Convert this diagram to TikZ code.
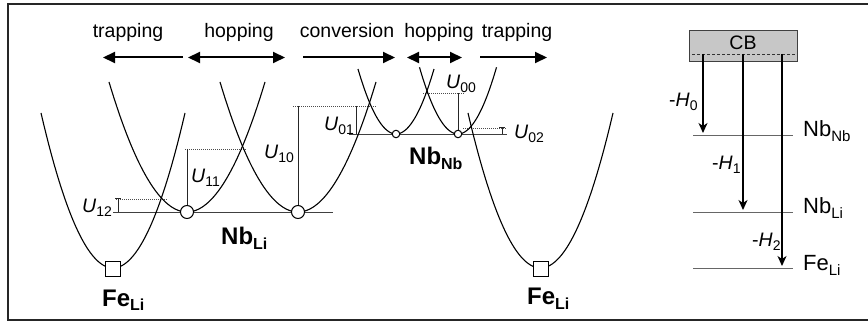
\documentclass[tikz,border=0pt]{standalone}
\usepackage{fontspec}
\setmainfont{Liberation Sans}
\usetikzlibrary{arrows.meta}
\newcommand{\lsub}[1]{\raisebox{-0.35ex}{\fontsize{14}{15}\selectfont #1}}
\newcommand{\bsub}[1]{\raisebox{-0.35ex}{\fontsize{16}{17}\selectfont #1}}
\newcommand{\rsub}[1]{\raisebox{-0.35ex}{\fontsize{15}{16}\selectfont #1}}
\begin{document}
\begin{tikzpicture}[x=1pt,y=-1pt,font=\fontsize{19.5}{22}\selectfont,
  curve/.style={line width=1.1pt,black},
  base/.style={line width=0.9pt,black!75},
  dot/.style={line width=0.7pt,black!70,dash pattern=on 1pt off 1pt},
  bar/.style={line width=1pt,black!85},
  procarrow/.style={line width=2pt,-{Triangle[length=12pt,width=11pt]}},
  procboth/.style={line width=2pt,{Triangle[length=12pt,width=11pt]}-{Triangle[length=12pt,width=11pt]}},
  hop/.style={line width=1.4pt,-{Stealth[length=10pt,width=9pt,inset=3pt]}},
  level/.style={line width=0.9pt,black!60},
  circA/.style={circle,draw,fill=white,line width=1pt,minimum size=13pt,inner sep=0pt},
  circB/.style={circle,draw,fill=white,line width=1pt,minimum size=7.5pt,inner sep=0pt},
  sq/.style={rectangle,draw,fill=white,line width=1pt,minimum size=15pt,inner sep=0pt},
  lbl/.style={anchor=base,inner sep=0pt},
  ulbl/.style={anchor=base west,inner sep=0pt},
  blbl/.style={anchor=base west,inner sep=0pt,font=\fontsize{24}{26}\selectfont\bfseries},
  rlbl/.style={anchor=base west,inner sep=0pt,font=\fontsize{22}{24}\selectfont}]
\useasboundingbox (0,0) rectangle (868,323);
% frame
\draw[line width=1.6pt,black!85] (870,4) -- (8,4) -- (8,320) -- (870,320);

% process labels and arrows
\node[lbl] (t1) at (128,37.5) {trapping};
\node[lbl] (h1) at (239,37.5) {hopping};
\node[lbl] (cv) at (347,37.5) {conversion};
\node[lbl] (h2) at (439,37.5) {hopping};
\node[lbl] (t2) at (517,37.5) {trapping};
\coordinate (a1s) at (183,57.5); \coordinate (a1e) at (103,57.5);
\coordinate (a2s) at (188,57.5); \coordinate (a2e) at (285,57.5);
\coordinate (a3s) at (303,57.5); \coordinate (a3e) at (395,57.5);
\coordinate (a4s) at (407,57.5); \coordinate (a4e) at (462,57.5);
\coordinate (a5s) at (480,57.5); \coordinate (a5e) at (547,57.5);
\draw[procarrow] (a1s) -- (a1e);
\draw[procboth] (a2s) -- (a2e);
\draw[procarrow] (a3s) -- (a3e);
\draw[procboth] (a4s) -- (a4e);
\draw[procarrow] (a5s) -- (a5e);

% baselines
\draw[base] (113,212) -- (333,212);
\draw[base] (349,134) -- (507,134);

% dotted levels
\draw[dot] (116,199) -- (167,199);
\draw[dot] (185,149) -- (247,149);
\draw[dot] (293,106) -- (377,106);
\draw[dot] (423,93) -- (465,93);
\draw[dot] (463,128) -- (507,128);

% bars
\draw[bar] (118,199) -- (118,212);
\draw[bar] (187,149) -- (187,212);
\draw[bar] (298,106) -- (298,212);
\draw[bar] (356,106) -- (356,134);
\draw[bar] (458,93) -- (458,134);
\draw[bar] (502,128) -- (502,134);
\draw[bar] (499,128) -- (505,128);
\draw[bar] (115,199) -- (121,199);

% parabolas
\draw[curve] plot[domain=-72:72,samples=80,smooth] ({113+\x},{268-0.0299*\x*\x});
\draw[curve] plot[domain=-78:78,samples=80,smooth] ({187+\x},{212-0.02137*\x*\x});
\draw[curve] plot[domain=-78:78,samples=80,smooth] ({298+\x},{212-0.02137*\x*\x});
\draw[curve] plot[domain=-38:38,samples=60,smooth] ({396+\x},{134-0.045*\x*\x});
\draw[curve] plot[domain=-38.5:38.5,samples=60,smooth] ({458+\x},{134-0.045*\x*\x});
\draw[curve] plot[domain=-72.5:72.5,samples=80,smooth] ({540.5+\x},{268-0.0295*\x*\x});

% state markers
\node[sq] (fe1) at (113,269) {};
\node[sq] (fe2) at (540.5,269) {};
\node[circA] (nl1) at (187,212) {};
\node[circA] (nl2) at (298,212) {};
\node[circB] (nn1) at (396,134) {};
\node[circB] (nn2) at (458,134) {};

% U labels
\node[ulbl] (u12) at (82,213) {\textit{U}\lsub{12}};
\node[ulbl] (u11) at (191,183) {\textit{U}\lsub{11}};
\node[ulbl] (u10) at (264,159) {\textit{U}\lsub{10}};
\node[ulbl] (u01) at (324,131) {\textit{U}\lsub{01}};
\node[ulbl] (u00) at (446,89) {\textit{U}\lsub{00}};
\node[ulbl] (u02) at (514,139) {\textit{U}\lsub{02}};

% state labels
\node[blbl] (lNbLi) at (221,245) {Nb\bsub{Li}};
\node[blbl] (lNbNb) at (409,165) {Nb\bsub{Nb}};
\node[blbl] (lFe1) at (102,306) {Fe\bsub{Li}};
\node[blbl] (lFe2) at (527,305) {Fe\bsub{Li}};

% right panel
\node[draw=black!75,fill=black!22,line width=1pt,minimum width=108pt,minimum height=31pt,inner sep=0pt] (cb) at (743,46.5) {};
\node[anchor=base,inner sep=0pt] (cbt) at (743,49.5) {CB};
\coordinate (cbl) at (692,54); \coordinate (cbr) at (795,54);
\draw[black!80,line width=0.8pt,dash pattern=on 3pt off 2pt] (cbl) -- (cbr);

\coordinate (l0a) at (693,135); \coordinate (l0b) at (793,135);
\coordinate (l1a) at (693,212); \coordinate (l1b) at (793,212);
\coordinate (l2a) at (693,268); \coordinate (l2b) at (793,268);
\draw[level] (l0a) -- (l0b);
\draw[level] (l1a) -- (l1b);
\draw[level] (l2a) -- (l2b);

\coordinate (h0s) at (703,54); \coordinate (h0e) at (703,133);
\coordinate (h1s) at (743,54); \coordinate (h1e) at (743,210);
\coordinate (h2s) at (782,54); \coordinate (h2e) at (782,266);
\draw[hop] (h0s) -- (h0e);
\draw[hop] (h1s) -- (h1e);
\draw[hop] (h2s) -- (h2e);

\node[ulbl] (lh0) at (669,107) {-\textit{H}\lsub{0}};
\node[ulbl] (lh1) at (712,170) {-\textit{H}\lsub{1}};
\node[ulbl] (lh2) at (752,247) {-\textit{H}\lsub{2}};

\node[rlbl] (rNbNb) at (803,137) {Nb\rsub{Nb}};
\node[rlbl] (rNbLi) at (803,214) {Nb\rsub{Li}};
\node[rlbl] (rFeLi) at (803,271) {Fe\rsub{Li}};
\end{tikzpicture}
\end{document}
